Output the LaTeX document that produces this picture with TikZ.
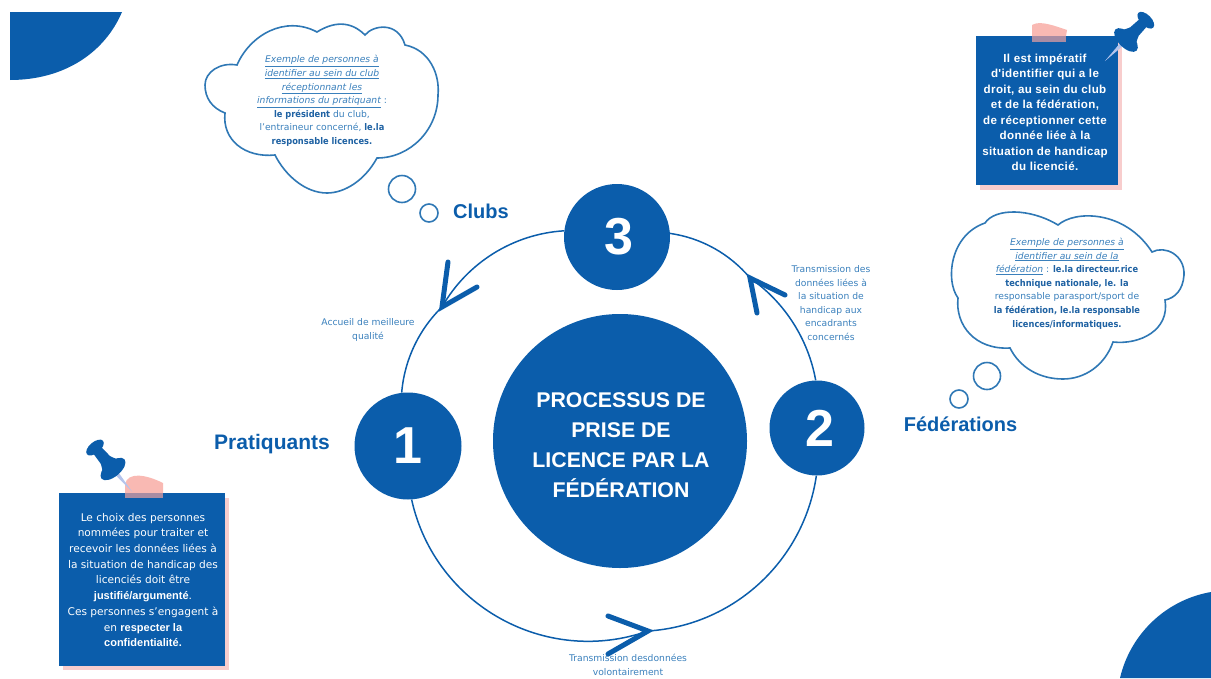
\documentclass[tikz,border=0pt]{standalone}
\usepackage{fontspec}
\setmainfont{DejaVu Sans}
\newfontfamily\lib{Liberation Sans}
\newfontfamily\libs[LetterSpace=3]{Liberation Sans}
\newfontfamily\cdn{DejaVu Sans Condensed}
\definecolor{navy}{HTML}{0B5DAB}
\definecolor{cloudline}{HTML}{2F78B5}
\definecolor{soft}{HTML}{3A80BC}
\definecolor{deep}{HTML}{1F62A3}
\definecolor{shadowpink}{HTML}{F8CDCD}
\definecolor{tape}{HTML}{F9B9B3}
\definecolor{tapeover}{HTML}{A98CA3}
\definecolor{needle}{HTML}{B4C4EC}
\newcommand{\dk}[1]{{\color{deep}\cdn\bfseries #1}}
\newcommand{\ul}[1]{\underline{\itshape #1}}
\newcommand{\wb}[1]{{\lib\bfseries\fontsize{11}{15.7}\selectfont #1}}
\tikzset{
  numdisc/.style={circle,fill=navy,text=white,inner sep=0pt,font=\lib\bfseries\fontsize{52}{52}\selectfont},
  ringline/.style={draw=navy,line width=1.5pt},
  barb/.style={draw=navy,line width=5pt,line cap=round,line join=miter},
  cloudpath/.style={draw=cloudline,line width=1.6pt,fill=white},
  bubble/.style={circle,draw=cloudline,line width=1.6pt,inner sep=0pt},
  cloudtext/.style={align=center,text=soft,font=\fontsize{9.2}{13.6}\selectfont},
  edgetext/.style={align=center,text=soft,font=\fontsize{9.2}{13.6}\selectfont},
  actor/.style={text=navy,font=\lib\bfseries\fontsize{20}{24}\selectfont},
  notebox/.style={fill=navy,inner sep=0pt,anchor=north west},
  noteshadow/.style={fill=shadowpink,inner sep=0pt,anchor=north west},
}
\newcommand{\pushpin}{%
  \fill[needle] (0,-2.5) -- (-30,0) -- (0,2.5) -- cycle;
  \fill[navy] (0,0) ellipse [x radius=7.5,y radius=15];
  \fill[navy] (0,-12) .. controls (6,-9) and (9,-7) .. (12,-6) -- (27,-5) -- (27,5) -- (12,6) .. controls (9,7) and (6,9) .. (0,12) -- cycle;
  \fill[navy] (28,0) ellipse [x radius=5.5,y radius=10.5];
}
\begin{document}
\begin{tikzpicture}[x=1pt,y=-1pt]
\useasboundingbox (0,0) rectangle (1211,678);
% corners
\fill[navy] (10,12) -- (122,12) .. controls (105,52) and (65,80) .. (10,80) -- cycle;
\fill[navy] (1211,592) .. controls (1165,600) and (1130,635) .. (1120,678) -- (1211,678) -- cycle;

% ring connectors
\coordinate (tipL) at (442,307);
\coordinate (tipB) at (648,631);
\coordinate (tipR) at (750,278);
\coordinate (armLa) at (448,262);
\coordinate (armLb) at (477,287);
\coordinate (armBa) at (608,616);
\coordinate (armBb) at (608,654);
\coordinate (armRa) at (785,295);
\coordinate (armRb) at (757,313);

\node[numdisc,minimum size=106pt] (n3) at (617,237) {\hspace{4pt}3};
\node[numdisc,minimum size=107pt] (n1) at (408,446) {1};
\node[numdisc,minimum size=95pt] (n2) at (817,428) {\hspace{6pt}2};
\node[circle,fill=navy,inner sep=0pt,minimum size=254pt] (centre) at (620,441) {};
\node[text=white,align=center,font=\lib\bfseries\fontsize{21.3}{30}\selectfont] (centretext) at (621,445)
      {PROCESSUS DE\\PRISE DE\\LICENCE PAR LA\\FÉDÉRATION};

\draw[ringline] (n3) to[bend right=28.5,looseness=.906] (tipL);
\draw[ringline] (tipL) to[bend right=20.5,looseness=.879] (n1);
\draw[ringline] (n1) to[bend right=48.5,looseness=1.024] (tipB);
\draw[ringline] (tipB) to[bend right=39,looseness=.958] (n2);
\draw[ringline] (n2) to[bend right=22.5,looseness=.885] (tipR);
\draw[ringline] (tipR) to[bend right=21,looseness=.88] (n3);
\draw[barb] (armLa) -- (tipL) -- (armLb);
\draw[barb] (armBa) -- (tipB) -- (armBb);
\draw[barb] (armRa) -- (tipR) -- (armRb);

% actors
\node[actor] (clubs) at (481,211) {Clubs};
\node[actor,font=\lib\bfseries\fontsize{21}{24}\selectfont] (prat) at (272,444) {Pratiquants};
\node[actor] (fede) at (960.5,424) {Fédérations};

% edge labels
\node[edgetext] (eL) at (368,330) {Accueil de meilleure\\qualité};
\node[edgetext] (eB) at (628,665) {Transmission desdonnées\\volontairement};
\node[edgetext] (eR) at (831,303) {Transmission des\\données liées à\\la situation de\\handicap aux\\encadrants\\concernés};

% cloud 1
\draw[cloudpath] (237,65) .. controls (250,35) and (285,15) .. (317,32)
  .. controls (333,22) and (350,20) .. (365,35)
  .. controls (373,25) and (398,21) .. (405,45)
  .. controls (430,50) and (440,75) .. (438,95)
  .. controls (438,130) and (410,158) .. (377,158)
  .. controls (365,180) and (345,193) .. (327,193)
  .. controls (305,193) and (285,175) .. (275,155)
  .. controls (245,158) and (222,140) .. (225,113)
  .. controls (212,108) and (205,98) .. (205,85)
  .. controls (205,72) and (220,62) .. (237,65) -- cycle;
\node[cloudtext] (c1) at (322,101) {\ul{Exemple de personnes à}\\\ul{identifier au sein du club}\\\ul{réceptionnant les}\\\ul{informations du pratiquant} :\\\dk{le président} du club,\\l'entraineur concerné, \dk{le.la}\\\dk{responsable licences.}};
\node[bubble,minimum size=27pt] (b1a) at (402,189) {};
\node[bubble,minimum size=18pt] (b1b) at (429,213) {};

% cloud 2
\draw[cloudpath] (985,223) .. controls (995,208) and (1030,208) .. (1058,225)
  .. controls (1075,210) and (1125,210) .. (1152,252)
  .. controls (1165,245) and (1185,255) .. (1184,275)
  .. controls (1183,290) and (1175,298) .. (1165,300)
  .. controls (1170,330) and (1140,345) .. (1113,342)
  .. controls (1105,365) and (1085,379) .. (1063,379)
  .. controls (1040,379) and (1020,368) .. (1010,348)
  .. controls (975,350) and (955,325) .. (958,298)
  .. controls (945,280) and (950,235) .. (985,223) -- cycle;
\node[cloudtext] (c2) at (1067,283.5) {\ul{Exemple de personnes à}\\\ul{identifier au sein de la}\\\ul{fédération} : \dk{le.la directeur.rice}\\\dk{technique nationale, le. la}\\responsable parasport/sport de\\\dk{la fédération, le.la responsable}\\\dk{licences/informatiques.}};
\node[bubble,minimum size=27pt] (b2a) at (987,376) {};
\node[bubble,minimum size=18pt] (b2b) at (959,399) {};

% right note
\fill[tape] (1032,25) .. controls (1040,20) and (1055,26) .. (1067,30) -- (1066,36) -- (1032,36) -- cycle;
\node[noteshadow,minimum width=142pt,minimum height=149pt] (rs) at (980,41) {};
\node[notebox,minimum width=142pt,minimum height=149pt] (rb) at (976,36) {};
\fill[tapeover] (1032,36) rectangle (1066,42);
\node[align=center,text=white,font=\libs\bfseries\fontsize{11.6}{15.5}\selectfont] (rt) at (1045,112.5)
  {Il est impératif\\d'identifier qui a le\\droit, au sein du club\\et de la fédération,\\de réceptionner cette\\donnée liée à la\\situation de handicap\\du licencié.};
\begin{scope}[shift={(1126,40)},rotate=45]\pushpin\end{scope}

% left note
\fill[tape] (125,484) .. controls (128,472) and (145,474) .. (163,483) -- (163,493) -- (125,493) -- cycle;
\node[noteshadow,minimum width=166pt,minimum height=172pt] (ls) at (63,498) {};
\node[notebox,minimum width=166pt,minimum height=173pt] (lb) at (59,493) {};
\fill[tapeover] (125,493) rectangle (163,498);
\node[align=center,text=white,font=\fontsize{10.6}{15.7}\selectfont] (lt) at (143,580)
  {Le choix des personnes\\nommées pour traiter et\\recevoir les données liées à\\la situation de handicap des\\licenciés doit être\\\wb{justifié/argumenté}.\\Ces personnes s'engagent à\\en \wb{respecter la}\\\wb{confidentialité.}};
\begin{scope}[shift={(113,469)},rotate=130]\pushpin\end{scope}
\end{tikzpicture}
\end{document}
